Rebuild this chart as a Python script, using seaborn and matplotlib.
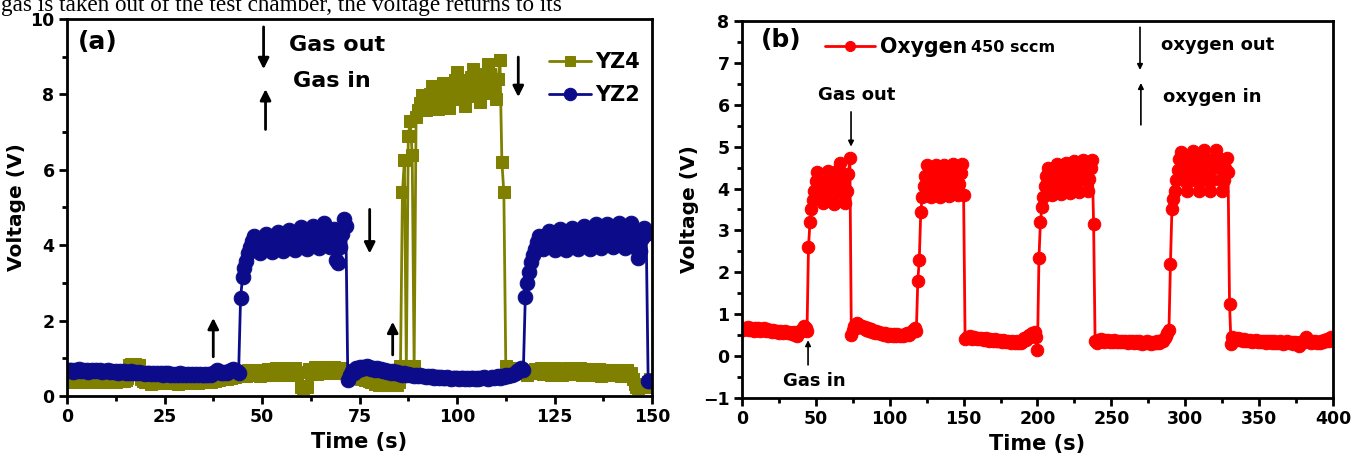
import numpy as np
import pandas as pd
import matplotlib
matplotlib.use("Agg")
import matplotlib.pyplot as plt
import seaborn as sns

# ---------------- data ----------------
# Panel (a): sampled every 0.5 s, each row = 5 s
step_a = 0.5
yz2 = [
    0.66,0.70,0.68,0.64,0.69,0.66,0.71,0.65,0.68,0.66,
    0.70,0.64,0.67,0.69,0.65,0.68,0.66,0.70,0.64,0.67,
    0.65,0.68,0.63,0.66,0.64,0.67,0.62,0.65,0.63,0.66,
    0.61,0.64,0.62,0.65,0.60,0.63,0.61,0.64,0.60,0.62,
    0.59,0.62,0.60,0.58,0.61,0.59,0.62,0.58,0.60,0.57,
    0.60,0.58,0.61,0.57,0.59,0.56,0.59,0.57,0.60,0.56,
    0.58,0.57,0.59,0.56,0.58,0.55,0.58,0.56,0.59,0.57,
    0.55,0.58,0.56,0.59,0.57,0.61,0.64,0.68,0.66,0.62,
    0.60,0.63,0.61,0.65,0.68,0.72,0.70,0.66,0.62,2.60,
    3.15,3.40,3.58,3.78,3.95,4.12,4.25,4.10,3.95,3.80,
    3.95,4.12,4.30,4.12,3.95,3.82,4.00,4.18,4.35,4.18,
    4.00,3.85,4.05,4.22,4.40,4.22,4.02,3.88,4.08,4.28,
    4.48,4.28,4.08,3.90,4.12,4.32,4.52,4.32,4.10,3.92,
    4.15,4.38,4.58,4.38,4.15,3.95,4.18,4.42,3.62,3.52,
    3.95,4.30,4.70,4.50,0.42,0.55,0.66,0.62,0.74,0.70,
    0.76,0.72,0.78,0.74,0.80,0.76,0.72,0.75,0.70,0.73,
    0.68,0.71,0.66,0.69,0.64,0.67,0.62,0.65,0.60,0.63,
    0.58,0.61,0.57,0.60,0.56,0.58,0.55,0.57,0.54,0.56,
    0.53,0.55,0.52,0.54,0.51,0.53,0.50,0.52,0.49,0.51,
    0.50,0.48,0.51,0.49,0.47,0.50,0.48,0.46,0.49,0.47,
    0.48,0.46,0.49,0.47,0.45,0.48,0.46,0.49,0.47,0.45,
    0.48,0.46,0.49,0.47,0.50,0.48,0.46,0.49,0.51,0.48,
    0.50,0.52,0.49,0.53,0.51,0.55,0.53,0.57,0.55,0.59,
    0.62,0.66,0.70,0.74,0.68,2.62,3.00,3.30,3.55,3.75,
    3.90,4.08,4.25,4.08,3.90,4.05,4.22,4.38,4.20,4.00,
    3.88,4.05,4.25,4.42,4.25,4.05,3.88,4.08,4.28,4.45,
    4.28,4.08,3.90,4.10,4.32,4.50,4.32,4.10,3.90,4.12,
    4.35,4.55,4.35,4.12,3.92,4.15,4.38,4.55,4.38,4.15,
    3.95,4.15,4.40,4.58,4.40,4.15,3.92,4.15,4.40,4.60,
    4.40,4.15,3.92,3.65,3.85,4.20,4.45,4.30,0.40,0.40,
]
yz4 = [
    0.40,0.45,0.38,0.48,0.42,0.36,0.46,0.40,0.44,0.38,
    0.45,0.40,0.37,0.47,0.42,0.39,0.46,0.41,0.38,0.44,
    0.40,0.46,0.38,0.43,0.41,0.37,0.45,0.40,0.44,0.39,
    0.42,0.47,0.82,0.86,0.80,0.84,0.78,0.83,0.45,0.40,
    0.36,0.42,0.38,0.33,0.40,0.35,0.41,0.37,0.34,0.39,
    0.36,0.41,0.34,0.38,0.35,0.40,0.37,0.33,0.39,0.36,
    0.41,0.37,0.34,0.40,0.36,0.42,0.38,0.35,0.41,0.37,
    0.43,0.39,0.36,0.42,0.38,0.44,0.40,0.46,0.42,0.48,
    0.44,0.50,0.46,0.52,0.48,0.55,0.50,0.58,0.54,0.60,
    0.56,0.64,0.52,0.68,0.60,0.55,0.70,0.58,0.66,0.54,
    0.68,0.57,0.63,0.72,0.55,0.66,0.60,0.73,0.56,0.64,
    0.70,0.58,0.65,0.74,0.57,0.68,0.62,0.75,0.59,0.63,
    0.24,0.22,0.26,0.23,0.72,0.60,0.68,0.76,0.58,0.66,
    0.73,0.60,0.67,0.77,0.61,0.69,0.64,0.76,0.60,0.71,
    0.66,0.74,0.62,0.68,0.58,0.52,0.56,0.49,0.54,0.47,
    0.51,0.45,0.49,0.43,0.47,0.40,0.36,0.42,0.32,0.38,
    0.30,0.35,0.28,0.33,0.29,0.36,0.31,0.28,0.34,0.30,
    0.36,0.80,5.40,6.25,0.80,6.90,7.30,6.40,0.80,7.40,
    7.58,7.78,7.98,7.78,7.58,7.80,8.02,8.22,8.02,7.80,
    7.62,7.85,8.08,8.30,8.08,7.85,7.65,7.88,8.12,8.38,
    8.60,8.38,8.12,7.88,7.70,7.95,8.20,8.45,8.68,8.45,
    8.20,7.95,7.80,8.05,8.30,8.55,8.80,8.55,8.30,8.05,
    7.88,8.40,8.90,6.20,5.40,0.80,0.68,0.74,0.62,0.72,
    0.66,0.74,0.63,0.71,0.60,0.68,0.57,0.65,0.70,0.62,
    0.72,0.60,0.68,0.75,0.58,0.70,0.64,0.73,0.57,0.69,
    0.74,0.61,0.67,0.72,0.56,0.70,0.63,0.75,0.59,0.68,
    0.71,0.58,0.66,0.73,0.55,0.69,0.62,0.72,0.57,0.67,
    0.70,0.56,0.65,0.71,0.54,0.68,0.60,0.70,0.55,0.66,
    0.69,0.55,0.64,0.70,0.53,0.66,0.58,0.68,0.52,0.62,
    0.45,0.32,0.25,0.22,0.27,0.23,0.30,0.25,0.36,0.45,
]
# Panel (b): sampled every 1 s, each row = 10 s
step_b = 1.0
oxygen = [
    0.66,0.62,0.68,0.64,0.70,0.63,0.67,0.65,0.61,0.66,
    0.63,0.67,0.60,0.65,0.62,0.66,0.59,0.64,0.61,0.63,
    0.58,0.62,0.60,0.57,0.61,0.56,0.60,0.58,0.55,0.59,
    0.57,0.54,0.58,0.55,0.53,0.57,0.50,0.48,0.55,0.58,
    0.62,0.68,0.72,0.66,0.60,2.60,3.20,3.50,3.72,3.95,
    4.18,4.40,4.18,3.95,3.72,3.65,3.90,4.15,4.42,4.20,
    3.95,3.70,3.62,3.90,4.15,4.45,4.62,4.38,4.12,3.85,
    3.65,3.95,4.35,4.72,0.50,0.62,0.72,0.68,0.78,0.74,
    0.70,0.73,0.66,0.69,0.63,0.66,0.60,0.64,0.58,0.61,
    0.56,0.59,0.54,0.57,0.52,0.55,0.50,0.54,0.52,0.49,
    0.53,0.50,0.48,0.52,0.49,0.53,0.50,0.47,0.51,0.49,
    0.52,0.50,0.54,0.51,0.55,0.58,0.62,0.68,0.60,1.80,
    2.30,3.45,3.80,4.05,4.30,4.55,4.30,4.05,3.80,4.05,
    4.32,4.55,4.32,4.05,3.80,4.05,4.32,4.55,4.35,4.08,
    3.82,4.08,4.35,4.58,4.38,4.10,3.85,4.10,4.38,4.58,
    3.85,0.40,0.45,0.42,0.47,0.44,0.41,0.45,0.42,0.40,
    0.43,0.40,0.44,0.41,0.38,0.42,0.39,0.37,0.41,0.38,
    0.36,0.40,0.37,0.35,0.39,0.36,0.34,0.38,0.35,0.33,
    0.37,0.34,0.32,0.36,0.33,0.31,0.35,0.32,0.34,0.31,
    0.36,0.42,0.38,0.46,0.50,0.45,0.55,0.48,0.58,0.45,
    0.15,2.35,3.20,3.55,3.80,4.05,4.30,4.50,4.28,4.02,
    3.85,4.10,4.35,4.58,4.35,4.10,3.88,4.12,4.40,4.62,
    4.40,4.15,3.90,4.15,4.42,4.65,4.45,4.18,3.92,4.20,
    4.48,4.68,4.48,4.20,3.95,4.22,4.50,4.68,3.15,0.35,
    0.32,0.38,0.35,0.40,0.36,0.33,0.38,0.35,0.39,0.34,
    0.37,0.34,0.38,0.35,0.33,0.37,0.34,0.36,0.33,0.37,
    0.34,0.32,0.36,0.33,0.35,0.31,0.34,0.36,0.32,0.35,
    0.33,0.30,0.34,0.32,0.35,0.31,0.33,0.30,0.34,0.32,
    0.31,0.35,0.32,0.34,0.38,0.36,0.42,0.48,0.55,0.62,
    2.20,3.50,3.75,3.95,4.20,4.45,4.70,4.88,4.68,4.42,
    4.18,3.95,4.18,4.45,4.70,4.90,4.70,4.45,4.18,3.95,
    4.18,4.45,4.70,4.92,4.70,4.45,4.18,3.95,4.20,4.48,
    4.72,4.92,4.72,4.48,4.20,3.95,4.20,4.48,4.72,4.40,
    1.25,0.30,0.45,0.40,0.43,0.38,0.42,0.39,0.41,0.37,
    0.40,0.36,0.39,0.35,0.38,0.34,0.37,0.35,0.38,0.34,
    0.36,0.33,0.37,0.34,0.36,0.32,0.35,0.33,0.36,0.32,
    0.35,0.32,0.34,0.31,0.35,0.33,0.30,0.34,0.32,0.35,
    0.33,0.31,0.34,0.30,0.33,0.31,0.28,0.25,0.34,0.32,
    0.36,0.40,0.45,0.38,0.34,0.32,0.36,0.33,0.35,0.31,
    0.34,0.32,0.36,0.33,0.38,0.35,0.40,0.37,0.42,0.45,
    0.44,
]
xticks_a = [0, 25, 50, 75, 100, 125, 150]
yticks_a = [0, 2, 4, 6, 8, 10]
xticks_b = [0, 50, 100, 150, 200, 250, 300, 350, 400]
yticks_b = [-1, 0, 1, 2, 3, 4, 5, 6, 7, 8]

t_a = np.arange(len(yz2)) * step_a
t_b = np.arange(len(oxygen)) * step_b
df_a = pd.DataFrame({"t": t_a, "YZ2": yz2, "YZ4": yz4})
df_b = pd.DataFrame({"t": t_b, "v": oxygen})

# ---------------- style ----------------
sns.set_theme(style="ticks")
plt.rcParams["font.family"] = ["DejaVu Sans"]
plt.rcParams["font.weight"] = "bold"
plt.rcParams["axes.labelweight"] = "bold"
for k in ("text.color", "axes.labelcolor", "xtick.color", "ytick.color", "axes.edgecolor"):
    plt.rcParams[k] = "black"

OLIVE = "#808000"
NAVY = "#0c0c8a"
RED = "#ff0000"

fig = plt.figure(figsize=(13.66, 4.61), dpi=100)
fig.patch.set_facecolor("white")
ax_a = fig.add_axes([0.04905, 0.141, 0.4283, 0.8178])
ax_b = fig.add_axes([0.5432, 0.1367, 0.4326, 0.8178])

# top clipped caption line
fig.text(0.001, 1 - 11 / 461, "gas is taken out of the test chamber, the voltage returns to its",
         family=["Liberation Serif", "DejaVu Serif"], fontsize=16.7, weight="normal",
         ha="left", va="baseline")

# ---------------- panel (a) ----------------
sns.lineplot(data=df_a, x="t", y="YZ4", ax=ax_a, color=OLIVE, marker="s", markersize=9,
             markeredgecolor=OLIVE, linewidth=2, label="YZ4", sort=False, estimator=None)
sns.lineplot(data=df_a, x="t", y="YZ2", ax=ax_a, color=NAVY, marker="o", markersize=10.5,
             markeredgecolor=NAVY, linewidth=2, label="YZ2", sort=False, estimator=None)
ax_a.set_xlim(0, 150)
ax_a.set_ylim(0, 10)
ax_a.set_xticks(xticks_a)
ax_a.set_yticks(yticks_a)
ax_a.set_xticks(np.arange(12.5, 150, 25), minor=True)
ax_a.set_yticks(np.arange(1, 10, 2), minor=True)
leg = ax_a.legend(loc="upper right", bbox_to_anchor=(1.0, 0.945), frameon=False,
                  prop=dict(weight="bold", size=15), handlelength=2.0, handletextpad=0.2,
                  labelspacing=0.62, borderaxespad=0.2, markerscale=0.85)

arrow_thick = dict(arrowstyle="-|>", color="black", lw=2, mutation_scale=16, shrinkA=0, shrinkB=0)
for (x0, y0, x1, y1) in [(50.4, 9.79, 50.4, 8.67), (50.9, 7.07, 50.9, 8.14),
                         (77.6, 4.95, 77.6, 3.78), (37.5, 1.04, 37.5, 2.07),
                         (83.5, 1.09, 83.5, 1.97), (115.7, 8.99, 115.7, 7.93)]:
    ax_a.annotate("", xy=(x1, y1), xytext=(x0, y0), arrowprops=arrow_thick)
ax_a.text(69.2, 9.31, "Gas out", ha="center", va="center", fontsize=16, weight="bold")
ax_a.text(67.9, 8.35, "Gas in", ha="center", va="center", fontsize=16, weight="bold")
ax_a.text(8.0, 9.39, "(a)", ha="center", va="center", fontsize=18, weight="bold")

# ---------------- panel (b) ----------------
sns.lineplot(data=df_b, x="t", y="v", ax=ax_b, color=RED, marker="o", markersize=9,
             markeredgecolor=RED, linewidth=2, label="Oxygen", sort=False, estimator=None)
ax_b.set_xlim(0, 400)
ax_b.set_ylim(-1, 8)
ax_b.set_xticks(xticks_b)
ax_b.set_yticks(yticks_b)
ax_b.set_xticks(np.arange(25, 400, 50), minor=True)
ax_b.set_yticks(np.arange(-0.5, 8, 1), minor=True)
leg_b = ax_b.legend(loc="upper left", bbox_to_anchor=(0.12, 0.99), frameon=False,
                    prop=dict(weight="bold", size=14.8), handlelength=2.4, handletextpad=0.25,
                    borderaxespad=0.2, markerscale=0.8)
ax_b.annotate("450 sccm", xy=(1, 0), xycoords=leg_b.get_texts()[0], xytext=(3, 3.5),
              textcoords="offset points", ha="left", va="baseline", fontsize=11.5,
              weight="bold", zorder=10)

arrow_thin = dict(arrowstyle="-|>", color="black", lw=1.2, mutation_scale=8, shrinkA=0, shrinkB=0)
for (x0, y0, x1, y1) in [(73.8, 5.83, 73.8, 5.0), (44.7, -0.21, 44.7, 0.38),
                         (269.4, 7.85, 269.4, 6.83), (270.0, 5.52, 270.0, 6.52)]:
    ax_b.annotate("", xy=(x1, y1), xytext=(x0, y0), arrowprops=arrow_thin)
ax_b.text(77.8, 6.23, "Gas out", ha="center", va="center", fontsize=13, weight="bold")
ax_b.text(48.7, -0.59, "Gas in", ha="center", va="center", fontsize=13, weight="bold")
ax_b.text(322, 7.42, "oxygen out", ha="center", va="center", fontsize=13, weight="bold")
ax_b.text(318, 6.18, "oxygen in", ha="center", va="center", fontsize=13, weight="bold")
ax_b.text(26.4, 7.54, "(b)", ha="center", va="center", fontsize=18, weight="bold")

# ---------------- common axis styling ----------------
for ax in (ax_a, ax_b):
    ax.set_xlabel("Time (s)", fontsize=15, weight="bold", labelpad=4)
    ax.set_ylabel("Voltage (V)", fontsize=14.5, weight="bold", labelpad=3)
    for s in ax.spines.values():
        s.set_visible(True)
        s.set_linewidth(2.0)
        s.set_color("black")
    ax.tick_params(which="major", direction="out", length=6, width=2, labelsize=12.5,
                   color="black", pad=3)
    ax.tick_params(which="minor", direction="out", length=3.5, width=2, color="black")
    ax.tick_params(top=False, right=False, which="both")
    for lab in ax.get_xticklabels() + ax.get_yticklabels():
        lab.set_fontweight("bold")
    ax.set_facecolor("white")
    ax.grid(False)

fig.savefig("out.png", dpi=100, facecolor="white")
